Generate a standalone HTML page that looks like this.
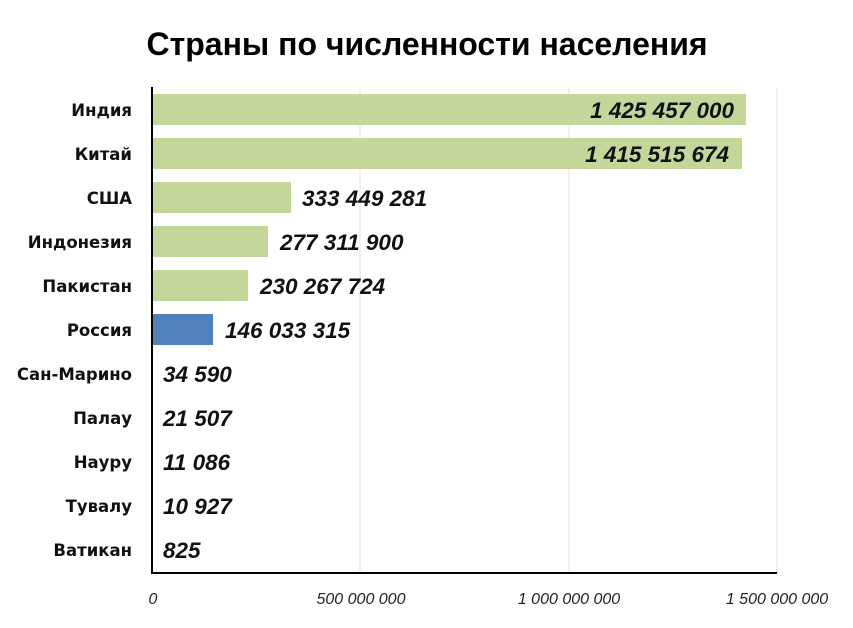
<!DOCTYPE html>
<html><head><meta charset="utf-8"><style>
body{margin:0;background:#fff}
svg text{font-family:"Liberation Sans","DejaVu Sans",sans-serif}
svg g.cat text{font-family:"DejaVu Sans",sans-serif}
</style></head><body>
<svg width="853" height="623" xmlns="http://www.w3.org/2000/svg">
<rect width="853" height="623" fill="#fff"/>
<text x="427" y="55" text-anchor="middle" font-size="32" font-weight="bold" fill="#000">Страны по численности населения</text>
<g stroke="#e3e3e3" stroke-width="1">
<line x1="360" y1="87" x2="360" y2="573"/>
<line x1="569" y1="87" x2="569" y2="573"/>
<line x1="777" y1="87" x2="777" y2="573"/>
</g>
<g fill="#c4d79b">
<rect x="153" y="94" width="593" height="31"/>
<rect x="153" y="138" width="589" height="31"/>
<rect x="153" y="182" width="138" height="31"/>
<rect x="153" y="226" width="115" height="31"/>
<rect x="153" y="270" width="95" height="31"/>
</g>
<rect x="153" y="314" width="60" height="31" fill="#4f81bd"/>
<line x1="152" y1="87" x2="152" y2="574" stroke="#000" stroke-width="2"/>
<line x1="151" y1="573" x2="777" y2="573" stroke="#000" stroke-width="2"/>
<g class="cat" font-size="16.5" font-weight="bold" text-anchor="end" fill="#111">
<text x="132" y="116">Индия</text>
<text x="132" y="160">Китай</text>
<text x="132" y="204">США</text>
<text x="132" y="248">Индонезия</text>
<text x="132" y="292">Пакистан</text>
<text x="132" y="336">Россия</text>
<text x="132" y="380">Сан-Марино</text>
<text x="132" y="424">Палау</text>
<text x="132" y="468">Науру</text>
<text x="132" y="512">Тувалу</text>
<text x="132" y="556">Ватикан</text>
</g>
<g font-size="22.5" font-weight="bold" font-style="italic" fill="#111">
<text x="734" y="118" text-anchor="end">1 425 457 000</text>
<text x="729" y="162" text-anchor="end">1 415 515 674</text>
<text x="302" y="206">333 449 281</text>
<text x="280" y="250">277 311 900</text>
<text x="260" y="294">230 267 724</text>
<text x="225" y="338">146 033 315</text>
<text x="163" y="382">34 590</text>
<text x="163" y="426">21 507</text>
<text x="163" y="470">11 086</text>
<text x="163" y="514">10 927</text>
<text x="163" y="558">825</text>
</g>
<g font-size="16" font-style="italic" fill="#222" text-anchor="middle">
<text x="153" y="604">0</text>
<text x="361" y="604">500 000 000</text>
<text x="569" y="604">1 000 000 000</text>
<text x="777" y="604">1 500 000 000</text>
</g>
</svg>
</body></html>
